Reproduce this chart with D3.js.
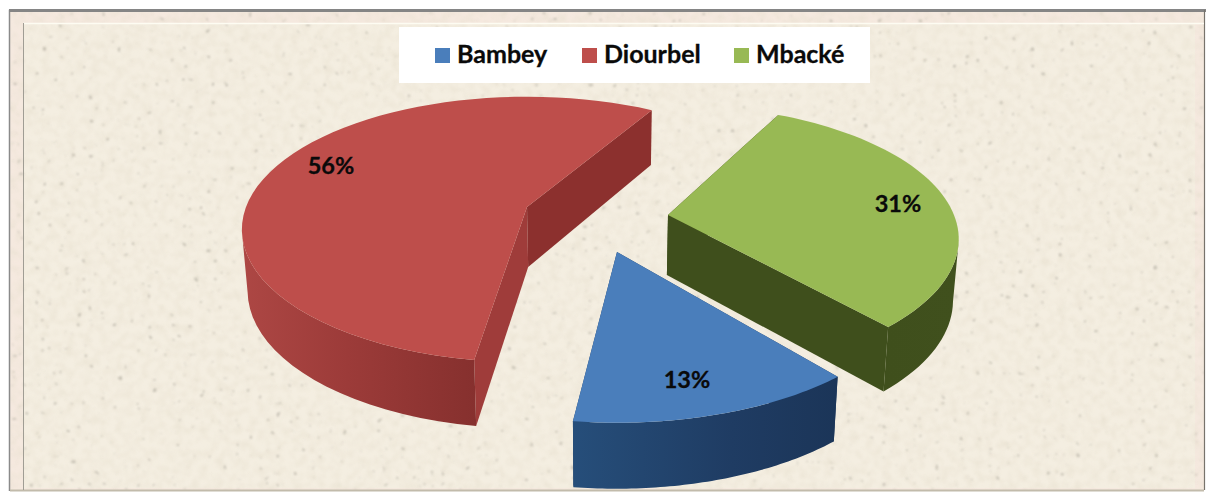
<!DOCTYPE html>
<html>
<head>
<meta charset="utf-8">
<script src="https://cdn.jsdelivr.net/npm/d3@7/dist/d3.min.js"></script>
<style>
html,body{margin:0;padding:0;background:#fff;overflow:hidden}
svg{display:block}
text{font-family:Lato,"Open Sans",sans-serif;font-weight:700;fill:#0a0a0a;stroke:#0a0a0a;stroke-width:0.3px}
</style>
</head>
<body>
<div id="chart"></div>
<script>
const categories = ["Bambey", "Diourbel", "Mbacké"];
const shares = [13, 56, 31];
const topColors = ["#4a7ebb", "#be4e4b", "#98b954"];

const W = 1206, H = 497;
const svg = d3.select("#chart").append("svg").attr("width", W).attr("height", H);
const defs = svg.append("defs");

// paper texture
const mott = defs.append("filter").attr("id", "mott").attr("x", 0).attr("y", 0).attr("width", 1).attr("height", 1);
mott.append("feTurbulence").attr("type", "fractalNoise").attr("baseFrequency", 0.12).attr("numOctaves", 3).attr("seed", 7);
mott.append("feColorMatrix").attr("type", "matrix").attr("values", "0 0 0 0 0.80  0 0 0 0 0.74  0 0 0 0 0.62  1.6 0 0 0 -0.62");
mott.append("feGaussianBlur").attr("stdDeviation", 1);
const speck = defs.append("filter").attr("id", "speck").attr("x", 0).attr("y", 0).attr("width", 1).attr("height", 1);
speck.append("feTurbulence").attr("type", "fractalNoise").attr("baseFrequency", 0.17).attr("numOctaves", 2).attr("seed", 23);
speck.append("feColorMatrix").attr("type", "matrix").attr("values", "0 0 0 0 0.50  0 0 0 0 0.47  0 0 0 0 0.40  12 0 0 0 -8.8");
speck.append("feGaussianBlur").attr("stdDeviation", 0.8);

function hGrad(id, stops) {
  const g = defs.append("linearGradient").attr("id", id);
  stops.forEach(([o, c]) => g.append("stop").attr("offset", o).attr("stop-color", c));
  return `url(#${id})`;
}

// frame
svg.append("rect").attr("x", 10).attr("y", 10).attr("width", 1194).attr("height", 480).attr("fill", "#f5e9df");
svg.append("rect").attr("x", 23).attr("y", 24).attr("width", 1172).attr("height", 464).attr("fill", "#f4eee1");
svg.append("rect").attr("x", 10).attr("y", 10).attr("width", 1194).attr("height", 480).attr("filter", "url(#mott)").attr("opacity", 0.7);
svg.append("rect").attr("x", 10).attr("y", 10).attr("width", 1194).attr("height", 480).attr("filter", "url(#speck)").attr("opacity", 0.8);
svg.append("path").attr("d", "M9.5 491V10.5H1205").attr("fill", "none").attr("stroke", "#8a8a8a").attr("stroke-width", 1.5);
svg.append("path").attr("d", "M9 10.5H1206").attr("fill", "none").attr("stroke", "#858585").attr("stroke-width", 3);
svg.append("path").attr("d", "M1204.5 10V490").attr("fill", "none").attr("stroke", "#77736c").attr("stroke-width", 1.2);
svg.append("path").attr("d", "M10 490.5H1204").attr("fill", "none").attr("stroke", "#c2bbab").attr("stroke-width", 2);
svg.append("path").attr("d", "M23 23.5H1204").attr("fill", "none").attr("stroke", "#fdfcf2").attr("stroke-width", 1.5);
svg.append("path").attr("d", "M23.5 23V490").attr("fill", "none").attr("stroke", "#a09d94").attr("stroke-width", 1);

// pie angles from the data
const toRad = Math.PI / 180;
const firstAngle = 142.2 * toRad;
const pie = d3.pie().sort(null).startAngle(firstAngle).endAngle(firstAngle + 2 * Math.PI);
const arcs = pie(shares);

// 3-D view of each exploded slice
const view = {
  Diourbel: { cx: 527, cy: 207, rx: 281, ry: 129, persp: 0.17, twist: 0, order: 0, label: [331, 166],
    wall: hGrad("gr", [[0, "#ad4744"], [0.45, "#9c3b39"], [1, "#86302e"]]), cutA: "#9f3c3a", cutB: "#8c302e" },
  Mbacké: { cx: 668, cy: 215, rx: 286, ry: 130, persp: 0.18, twist: -4, order: 1, label: [898, 204],
    wall: hGrad("gg", [[0, "#3f4f1c"], [1, "#40501d"]]), cutA: "#3f4f1c", cutB: "#3f4f1c" },
  Bambey: { cx: 617, cy: 252, rx: 297, ry: 140, persp: 0.18, twist: -2, order: 2, label: [687, 380],
    wall: hGrad("gb", [[0, "#264e7a"], [0.6, "#1f3c63"], [1, "#1b3558"]]), cutA: "#1f3c63", cutB: "#1f3c63" }
};
const depth = 60, vanishX = 600, inset = 0.016;

const line = d3.line();
function project(v, angle, r, down) {
  const a = angle + v.twist * toRad;
  const s = Math.sin(a) * r, c = -Math.cos(a) * r;
  const p = 1 / (1 - v.persp * c);
  const x = v.cx + v.rx * s * p;
  const y = v.cy + v.ry * c * p;
  return down ? [x + (vanishX - x) * inset, y + depth * (1 + 0.1 * c)] : [x, y];
}

const slices = arcs.map((a, i) => ({ a, i, name: categories[i], v: view[categories[i]] }))
  .sort((x, y) => x.v.order - y.v.order);

const g = svg.append("g");
slices.forEach(({ a, i, name, v }) => {
  const steps = d3.range(0, 61).map(t => a.startAngle + (a.endAngle - a.startAngle) * t / 60);
  const rim = steps.map(t => project(v, t, 1, false));
  const rimLow = steps.map(t => project(v, t, 1, true));
  const apex = project(v, a.startAngle, 0, false), apexLow = project(v, a.startAngle, 0, true);
  const front = steps.filter(t => -Math.cos(t + v.twist * toRad) >= v.persp);
  const wallTop = front.map(t => project(v, t, 1, false));
  const wallLow = front.map(t => project(v, t, 1, true));
  const sg = g.append("g").attr("class", "slice");
  // cut walls
  sg.append("path").attr("d", line([apex, rim[0], rimLow[0], apexLow]) + "Z").attr("fill", v.cutA);
  sg.append("path").attr("d", line([apex, rim[60], rimLow[60], apexLow]) + "Z").attr("fill", v.cutB);
  // outer wall, front part only
  sg.append("path").attr("d", line(wallTop.concat(wallLow.slice().reverse())) + "Z").attr("fill", v.wall);
  // top face
  sg.append("path").attr("d", line([apex].concat(rim)) + "Z").attr("fill", topColors[i]);
});

// value labels
slices.forEach(({ i, v }) => {
  svg.append("text").attr("x", v.label[0]).attr("y", v.label[1]).attr("dy", "0.35em")
    .attr("text-anchor", "middle").attr("font-size", 23.5).text(shares[i] + "%");
});

// legend
svg.append("rect").attr("x", 399).attr("y", 27).attr("width", 471).attr("height", 56).attr("fill", "#fff");
const legendX = [435, 582, 734];
categories.forEach((c, i) => {
  svg.append("rect").attr("x", legendX[i]).attr("y", 48).attr("width", 15).attr("height", 15).attr("fill", topColors[i]);
  svg.append("text").attr("x", legendX[i] + 22).attr("y", 63).attr("font-size", 25).text(c);
});
</script>
</body>
</html>
